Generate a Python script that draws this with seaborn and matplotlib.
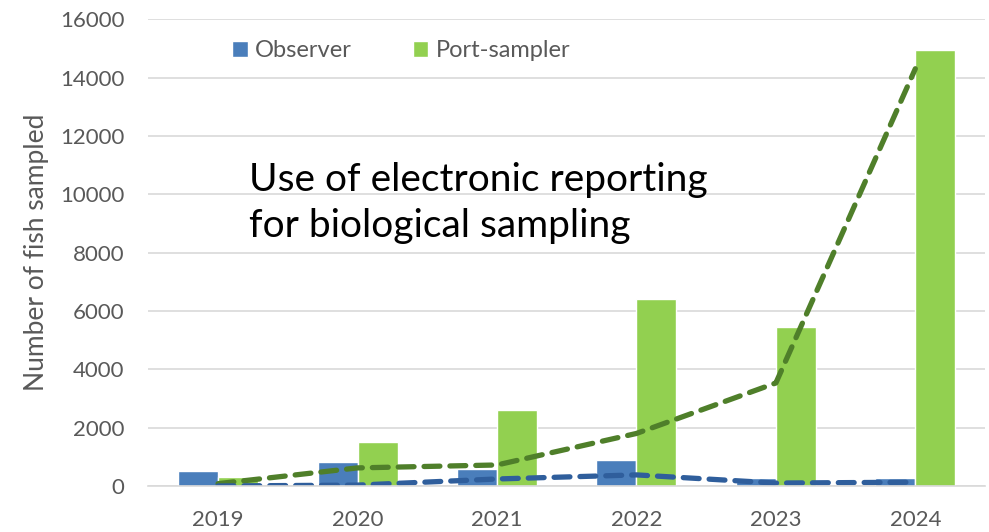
import numpy as np
import pandas as pd
import matplotlib
matplotlib.use("Agg")
import matplotlib.pyplot as plt
import seaborn as sns

years = ["2019", "2020", "2021", "2022", "2023", "2024"]
observer = [520, 820, 580, 900, 260, 260]
port_sampler = [320, 1520, 2600, 6400, 5450, 14950]
observer_trend = [0, 30, 240, 380, 100, 130]
port_trend = [80, 620, 720, 1800, 3530, 14300]

sns.set_theme(style="white")
plt.rcParams["font.family"] = ["Lato", "DejaVu Sans"]

df = pd.DataFrame({
    "year": years * 2,
    "count": observer + port_sampler,
    "group": ["Observer"] * 6 + ["Port-sampler"] * 6,
})

fig = plt.figure(figsize=(9.89, 5.32), dpi=100)
ax = fig.add_axes([0.15, 0.0865, 0.846, 0.8775])

sns.barplot(data=df, x="year", y="count", hue="group",
            palette={"Observer": "#4a7ebb", "Port-sampler": "#92d050"},
            width=0.574, saturation=1, ax=ax, gap=0)

ax.plot(range(len(years)), port_trend, color="#4f7f2a", lw=3.8,
        dashes=(3.0, 1.9), dash_capstyle="round")
ax.plot(range(len(years)), observer_trend, color="#2f5e9c", lw=3.8,
        dashes=(3.0, 1.9), dash_capstyle="round")

ax.set_ylim(0, 16000)
ax.set_xlim(-0.5, 5.5)
ax.set_yticks(np.arange(0, 16001, 2000))
ax.yaxis.grid(True, color="#d9d9d9", lw=1.2)
ax.set_axisbelow(True)
for s in ["top", "right", "left"]:
    ax.spines[s].set_visible(False)
ax.spines["bottom"].set_color("#d9d9d9")
ax.spines["bottom"].set_linewidth(1.2)
ax.tick_params(axis="both", length=0, labelsize=16, labelcolor="#595959")
ax.tick_params(axis="y", pad=17)
ax.tick_params(axis="x", pad=17)
ax.set_xlabel("")
ax.set_ylabel("Number of fish sampled", fontsize=19, color="#595959", labelpad=8)

ax.legend(loc="upper left", bbox_to_anchor=(0.075, 1.0), ncol=2, frameon=False,
          fontsize=17, labelcolor="#595959", handlelength=0.65, handleheight=0.65,
          columnspacing=2.6, handletextpad=0.3)

ax.text(0.12, 0.607, "Use of electronic reporting\nfor biological sampling",
        transform=ax.transAxes, fontsize=28, color="black", va="center",
        linespacing=1.35)

fig.savefig("out.png", dpi=100)
